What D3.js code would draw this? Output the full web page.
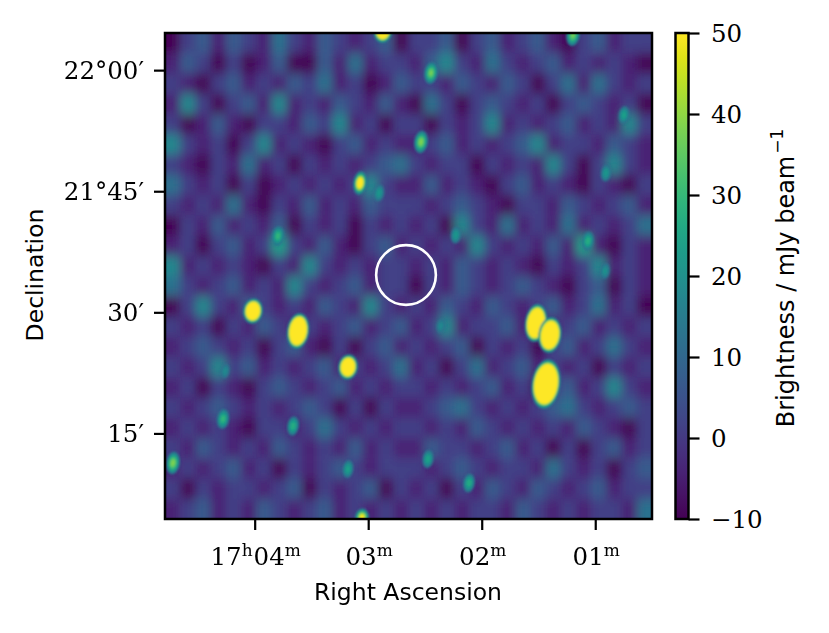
<!DOCTYPE html>
<html><head><meta charset="utf-8">
<script src="https://cdn.jsdelivr.net/npm/d3@7"></script>
<style>body{margin:0;background:#fff}</style>
</head><body>
<svg id="chart" width="829" height="633"></svg>
<script>
// ---------------- DATA ----------------
// Right Ascension in minutes after 17h00m, Declination in arcmin above 21°00'
const raDomain = [4.79, 0.50];
const decDomain = [64.6, 4.4];
const raTicks = [4, 3, 2, 1];
const raTickHours = ["17", "", "", ""];
const raTickMinutes = ["04", "03", "02", "01"];
const decTicks = [60, 45, 30, 15];
const decTickLabels = ["22°00′", "21°45′", "30′", "15′"];
const cbDomain = [-10, 50];
const cbTicks = [-10, 0, 10, 20, 30, 40, 50];
const cbTickLabels = ["−10", "0", "10", "20", "30", "40", "50"];

// background brightness, coarse grid (digit d -> level)
const bgLevels = [
 "14535436435434514451453453145344",
 "35424135215363443574364345343430",
 "43145343546341354435435414636434",
 "37424537343543531641454341454341",
 "41353244354734244143473434534374",
 "74342473431453433453434573443543",
 "43143634243434564344043437414743",
 "64341403434347433534314534314324",
 "43436324353435444345431443543453",
 "14353435143404343417436343634346",
 "34145348435314534343743435383043",
 "73434304374343443435434314347343",
 "64345343743453441435434543145143",
 "14743543435437434354354345346341",
 "43424354343453453473445343453434",
 "34543414531414534345143414534643",
 "43474534345343463414634534341434",
 "34143145434534344343453414534743",
 "43454343454241433456434345643454",
 "34343144346434344343543434354314",
 "43543435434353433544345341414534",
 "34345341434543444345434436434145",
 "41434434514345143414354354345344",
 "34534354345343434343443543434436"
];
const bgLevelBase = -20.6, bgLevelStep = 5.5;  // mJy/beam per digit

// compact sources: RA (min after 17h), Dec (arcmin above 21°), peak (mJy/beam), Gaussian sigma (arcmin)
const srcRA    = [4.015, 3.618, 3.178, 1.522, 1.399, 1.434, 3.072, 2.870, 2.447, 2.535, 1.196, 3.055, 4.279, 3.662, 4.720, 3.178, 3.795, 2.905, 0.747, 0.905, 1.064, 2.227, 2.473, 2.112, 2.359, 0.914, 4.261];
const srcDec   = [30.16, 27.69, 23.23, 28.68, 27.19, 21.12, 46.02, 64.85, 59.65, 51.10, 64.35, 4.60, 16.79, 15.92, 11.34, 10.59, 39.45, 44.78, 54.44, 47.26, 38.84, 39.58, 11.83, 8.86, 28.31, 35.12, 22.73];
const srcPeak  = [200, 400, 200, 400, 400, 600, 70, 150, 40, 42, 40, 55, 32, 30, 42, 26, 32, 24, 26, 24, 30, 24, 27, 29, 20, 22, 20];
const srcSigRA = [0.52, 0.52, 0.52, 0.52, 0.54, 0.64, 0.45, 0.52, 0.55, 0.55, 0.55, 0.5, 0.55, 0.55, 0.55, 0.55, 0.55, 0.55, 0.55, 0.55, 0.55, 0.55, 0.55, 0.55, 0.55, 0.55, 0.55];
const srcSigDec= [0.67, 0.85, 0.67, 0.90, 0.85, 1.11, 0.80, 0.67, 0.90, 0.90, 0.90, 0.65, 0.90, 0.90, 0.90, 0.90, 0.90, 0.90, 0.90, 0.90, 0.90, 0.90, 0.90, 0.90, 0.90, 0.90, 0.90];
const contourLevels = [12, 15, 18, 21, 24, 27, 30, 34, 38, 42, 46, 50];

// target circle
const circleRA = 2.667, circleDec = 34.62, circleRadiusArcmin = 3.7;

// ---------------- LAYOUT ----------------
const X0 = 165, X1 = 652, Y0 = 33, Y1 = 519;
const CB0 = 675.5, CB1 = 688.5;
const serif = "DejaVu Serif";
const sans = "DejaVu Sans";
const fsTick = 24.5, fsSup = 17, fsLab = 23.5;

const svg = d3.select("#chart");
const x = d3.scaleLinear().domain(raDomain).range([X0, X1]);
const y = d3.scaleLinear().domain(decDomain).range([Y0, Y1]);
const color = d3.scaleSequential(d3.interpolateViridis).domain(cbDomain).clamp(true);
const pxPerArcmin = Math.abs(y(1) - y(0));

const defs = svg.append("defs");
defs.append("clipPath").attr("id", "plotclip")
  .append("rect").attr("x", X0).attr("y", Y0).attr("width", X1 - X0).attr("height", Y1 - Y0);
const fbg = defs.append("filter").attr("id", "bgblur")
  .attr("filterUnits", "userSpaceOnUse")
  .attr("x", X0 - 40).attr("y", Y0 - 40).attr("width", X1 - X0 + 80).attr("height", Y1 - Y0 + 80);
fbg.append("feGaussianBlur").attr("stdDeviation", "4.6 5.8");
const fsrc = defs.append("filter").attr("id", "srcblur")
  .attr("filterUnits", "userSpaceOnUse")
  .attr("x", X0 - 40).attr("y", Y0 - 40).attr("width", X1 - X0 + 80).attr("height", Y1 - Y0 + 80);
fsrc.append("feGaussianBlur").attr("stdDeviation", "1.1");

// ---------------- IMAGE ----------------
const plot = svg.append("g").attr("clip-path", "url(#plotclip)");
const nRows = bgLevels.length, nCols = bgLevels[0].length;
const gx = d3.scaleBand().domain(d3.range(nCols)).range([X0, X1]);
const gy = d3.scaleBand().domain(d3.range(nRows)).range([Y0, Y1]);
const cells = [];
bgLevels.forEach((row, r) => row.split("").forEach((ch, c) => cells.push({r, c, v: bgLevelBase + bgLevelStep * (+ch)})));
const pad = 30;
plot.append("g").attr("filter", "url(#bgblur)")
  .selectAll("rect").data(cells).join("rect")
  .attr("x", d => gx(d.c) - (d.c === 0 ? pad : 0))
  .attr("y", d => gy(d.r) - (d.r === 0 ? pad : 0))
  .attr("width", d => gx.bandwidth() + 0.6 + (d.c === 0 || d.c === nCols - 1 ? pad : 0))
  .attr("height", d => gy.bandwidth() + 0.6 + (d.r === 0 || d.r === nRows - 1 ? pad : 0))
  .attr("fill", d => color(d.v));

// sources: nested iso-level ellipses of each Gaussian
const srcEll = [];
srcRA.forEach((ra, i) => {
  contourLevels.forEach(lv => {
    if (lv < srcPeak[i]) {
      const k = Math.sqrt(2 * Math.log(srcPeak[i] / lv));
      srcEll.push({cx: x(ra), cy: y(srcDec[i]), rx: k * srcSigRA[i] * pxPerArcmin, ry: k * srcSigDec[i] * pxPerArcmin, lv});
    }
  });
});
plot.append("g").attr("filter", "url(#srcblur)")
  .selectAll("ellipse").data(srcEll).join("ellipse")
  .attr("transform", d => `translate(${d.cx},${d.cy}) rotate(8)`)
  .attr("rx", d => d.rx).attr("ry", d => d.ry)
  .attr("fill", d => color(d.lv));

// target circle
svg.append("circle")
  .attr("cx", x(circleRA)).attr("cy", y(circleDec))
  .attr("r", circleRadiusArcmin * pxPerArcmin)
  .attr("fill", "none").attr("stroke", "#fff").attr("stroke-width", 2.6);

// frame
svg.append("rect").attr("x", X0).attr("y", Y0).attr("width", X1 - X0).attr("height", Y1 - Y0)
  .attr("fill", "none").attr("stroke", "#000").attr("stroke-width", 2.5);

// ---------------- AXES ----------------
const xAxis = svg.append("g").attr("transform", `translate(0,${Y1})`)
  .call(d3.axisBottom(x).tickValues(raTicks).tickSize(11).tickSizeOuter(0).tickFormat(""));
const yAxis = svg.append("g").attr("transform", `translate(${X0},0)`)
  .call(d3.axisLeft(y).tickValues(decTicks).tickSize(11).tickSizeOuter(0).tickFormat(""));
[xAxis, yAxis].forEach(a => {
  a.select(".domain").remove();
  a.selectAll("line").attr("stroke", "#000").attr("stroke-width", 2.2);
});

// RA labels with superscripts
raTicks.forEach((t, i) => {
  const txt = svg.append("text").attr("x", x(t) + 1).attr("y", 565)
    .attr("text-anchor", "middle").style("font-family", serif).style("font-size", fsTick + "px").attr("fill", "#000");
  if (raTickHours[i]) {
    txt.append("tspan").text(raTickHours[i]);
    txt.append("tspan").attr("dy", -9.5).style("font-size", fsSup + "px").text("h");
    txt.append("tspan").attr("dy", 9.5).attr("dx", 1).text(raTickMinutes[i]);
  } else {
    txt.append("tspan").text(raTickMinutes[i]);
  }
  txt.append("tspan").attr("dy", -9.5).style("font-size", fsSup + "px").text("m");
});

// Dec labels
svg.append("g").selectAll("text").data(decTicks).join("text")
  .attr("x", 144).attr("y", d => y(d) + 9)
  .attr("text-anchor", "end").style("font-family", serif).style("font-size", fsTick + "px").attr("fill", "#000")
  .text((d, i) => decTickLabels[i]);

// axis titles
svg.append("text").attr("x", 408).attr("y", 600).attr("text-anchor", "middle")
  .style("font-family", sans).style("font-size", fsLab + "px").attr("fill", "#000").text("Right Ascension");
svg.append("text").attr("transform", "translate(43,275) rotate(-90)").attr("text-anchor", "middle")
  .style("font-family", sans).style("font-size", fsLab + "px").attr("fill", "#000").text("Declination");

// ---------------- COLORBAR ----------------
const cy = d3.scaleLinear().domain(cbDomain).range([Y1, Y0]);
const grad = defs.append("linearGradient").attr("id", "cbgrad")
  .attr("x1", 0).attr("y1", 1).attr("x2", 0).attr("y2", 0);
d3.range(0, 1.0001, 0.05).forEach(t => grad.append("stop")
  .attr("offset", t).attr("stop-color", color(cbDomain[0] + t * (cbDomain[1] - cbDomain[0]))));
svg.append("rect").attr("x", CB0).attr("y", Y0).attr("width", CB1 - CB0).attr("height", Y1 - Y0)
  .attr("fill", "url(#cbgrad)").attr("stroke", "#000").attr("stroke-width", 2.5);
const cAxis = svg.append("g").attr("transform", `translate(${CB1},0)`)
  .call(d3.axisRight(cy).tickValues(cbTicks).tickSize(11).tickSizeOuter(0).tickFormat(""));
cAxis.select(".domain").remove();
cAxis.selectAll("line").attr("stroke", "#000").attr("stroke-width", 2.2);
svg.append("g").selectAll("text").data(cbTicks).join("text")
  .attr("x", 711).attr("y", d => cy(d) + 9)
  .style("font-family", serif).style("font-size", fsTick + "px").attr("fill", "#000")
  .text((d, i) => cbTickLabels[i]);
const cbl = svg.append("text").attr("transform", "translate(794,278) rotate(-90)").attr("text-anchor", "middle")
  .style("font-family", sans).style("font-size", "24px").attr("fill", "#000");
cbl.append("tspan").text("Brightness  /  mJy beam");
cbl.append("tspan").attr("dy", -11).attr("dx", 2).style("font-size", "17px").text("−1");
</script>
</body></html>
